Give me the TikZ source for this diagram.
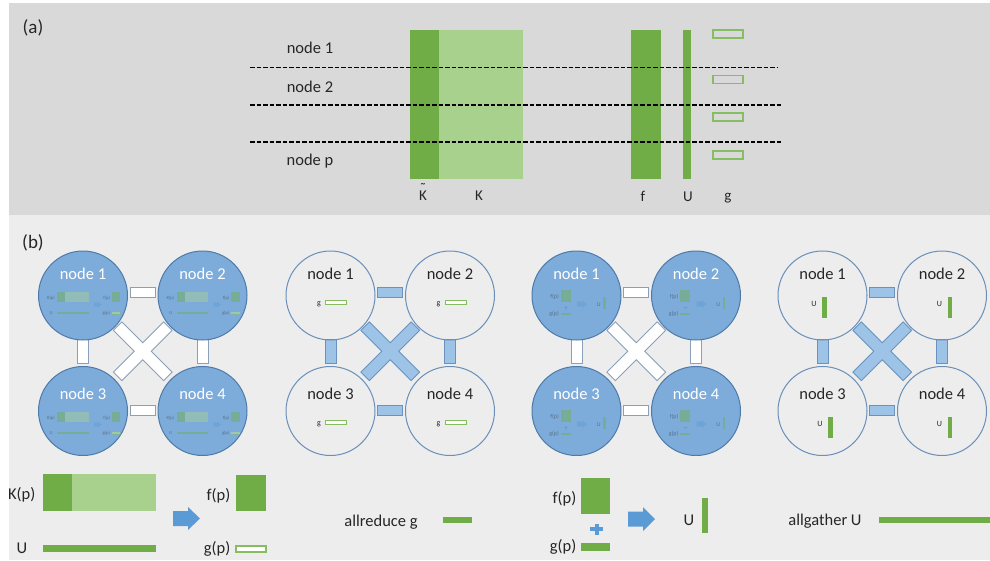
\documentclass[tikz,border=0pt]{standalone}
\usepackage{fontspec}
\setmainfont{Carlito}
\usetikzlibrary{calc}

\pgfdeclarelayer{bg}
\pgfdeclarelayer{links}
\pgfsetlayers{bg,links,main}

\definecolor{txt}{HTML}{262626}
\definecolor{pa}{HTML}{D9D9D9}
\definecolor{pb}{HTML}{EDEDED}
\definecolor{dkgreen}{HTML}{70AD47}
\definecolor{ltgreen}{HTML}{A9D18E}
\definecolor{gline}{HTML}{85BD60}
\definecolor{arrowblue}{HTML}{5B9BD5}
\definecolor{cblue}{HTML}{7EACDA}
\definecolor{cline}{HTML}{4D7AA8}
\definecolor{pline}{HTML}{6A8FB8}
\definecolor{barblue}{HTML}{9DC3E6}
\definecolor{barline}{HTML}{6B92BD}
\definecolor{openline}{HTML}{8AA0BA}

\tikzset{
  lbl/.style={font=\fontsize{16.5}{19}\selectfont, text=txt, inner sep=0pt},
  axislbl/.style={font=\fontsize{15}{18}\selectfont, text=txt, inner sep=0pt},
  tinylbl/.style={font=\fontsize{8}{9}\selectfont, text=txt, inner sep=0pt},
  panellbl/.style={font=\fontsize{19}{22}\selectfont, text=txt, inner sep=0pt},
  gbox/.style={draw=gline, line width=1.2pt, fill=white},
  gboxa/.style={draw=gline, line width=1.2pt},
  divline/.style={draw=black, dash pattern=on 4.5pt off 2pt},
  nodecirc/.style={circle, minimum size=89pt, inner sep=0pt, line width=1pt},
  hlink/.style={rectangle, minimum width=25pt, minimum height=10pt, inner sep=0pt, line width=0.9pt},
  vlink/.style={rectangle, minimum width=11pt, minimum height=24pt, inner sep=0pt, line width=0.9pt},
}

% K(p), U  =>  f(p), g(p)
\newcommand\legendK{%
  \fill[dkgreen] (43,474) rectangle (72,511);
  \fill[ltgreen] (72,474) rectangle (156,511);
  \fill[dkgreen] (43,545) rectangle (156,552);
  \fill[arrowblue] (173,511) -- (188,511) -- (188,507) -- (200,518.5) -- (188,530) -- (188,526) -- (173,526) -- cycle;
  \fill[dkgreen] (236,475) rectangle (266,511);
  \draw[gbox] (236,546) rectangle (266,552);
  \node[lbl, anchor=base east] (kp) at (35.5,499) {K(p)};
  \node[lbl, anchor=base] (ul) at (22,553) {U};
  \node[lbl, anchor=base east] (fp) at (230.5,500) {f(p)};
  \node[lbl, anchor=base east] (gp) at (230.5,553) {g(p)};
}

% f(p) + g(p)  =>  U
\newcommand\legendF{%
  \fill[dkgreen] (581,478) rectangle (610,514);
  \fill[arrowblue] (590,527) rectangle (603,531);
  \fill[arrowblue] (594.5,523.5) rectangle (598.5,534.5);
  \fill[dkgreen] (581,543) rectangle (610,551);
  \fill[arrowblue] (628,511.5) -- (643,511.5) -- (643,507) -- (655,519) -- (643,531) -- (643,526.5) -- (628,526.5) -- cycle;
  \fill[dkgreen] (702,498) rectangle (708,533);
  \node[lbl, anchor=base east] (fp) at (576.5,503) {f(p)};
  \node[lbl, anchor=base east] (gp) at (576.5,551) {g(p)};
  \node[lbl, anchor=base] (ul) at (689,525) {U};
}

\begin{document}
\begin{tikzpicture}[x=1pt, y=-1pt]
\useasboundingbox (0,0) rectangle (990,560);

% panel backgrounds
\begin{pgfonlayer}{bg}
  \fill[white] (0,0) rectangle (990,560);
  \fill[pa] (9,3) rectangle (990,215);
  \fill[pb] (9,215) rectangle (990,560);
\end{pgfonlayer}

% ---------------- (a) data layout across nodes ----------------
\node[panellbl, anchor=base] (la) at (33,33) {(a)};

\fill[dkgreen] (410,30) rectangle (439,179);
\fill[ltgreen] (439,30) rectangle (523,179);
\fill[dkgreen] (631,30) rectangle (661,179);
\fill[dkgreen] (683,30) rectangle (691,179);
\draw[gboxa] (713,30) rectangle (743,38);
\draw[gboxa] (713,75.5) rectangle (743,83.5);
\draw[gboxa] (713,113) rectangle (743,121);
\draw[gboxa] (713,151) rectangle (743,159);

\draw[divline, line width=1pt] (250,67) -- (778,67);
\draw[divline, line width=2pt] (250,105) -- (781,105);
\draw[divline, line width=2pt] (250,142) -- (781,142);

\node[lbl, anchor=base] (n1) at (310,53) {node 1};
\node[lbl, anchor=base] (n2) at (310,92.5) {node 2};
\node[lbl, anchor=base] (np) at (310,165.5) {node p};

\node[axislbl, align=center, anchor=south] (kt) at (423,200.5) {\char"02DC\\[-11pt]K};
\node[axislbl, anchor=base] (kk) at (479,200.5) {K};
\node[axislbl, anchor=base] (ff) at (643,201.5) {f};
\node[axislbl, anchor=base] (uu) at (688,201.5) {U};
\node[axislbl, anchor=base] (gg) at (728,200) {g};

% ---------------- (b) four node groups ----------------
\node[panellbl, anchor=base] (lb) at (33,248) {(b)};

\foreach \cid/\cx/\cfill/\cdraw/\tcol/\lfill/\ldraw in {%
    A/83/cblue/cline/white/white/openline,
    B/330.5/none/pline/txt/barblue/barline,
    C/576.5/cblue/cline/white/white/openline,
    D/822.5/none/pline/txt/barblue/barline}{
  \foreach \n/\dx/\cy/\ry in {1/0/295.5/295.5, 2/119.5/295.5/295.5, 3/0/411/415.5, 4/119.5/411/415.5}{
    \node[nodecirc, fill=\cfill, draw=\cdraw] (\cid\n) at ({\cx+\dx},\cy) {};
    \coordinate (\cid r\n) at ({\cx+\dx},\ry);
    \node[lbl, text=\tcol, anchor=base] (\cid t\n) at ([yshift=16.5pt]\cid r\n) {node \n};
  }
  \begin{pgfonlayer}{links}
    \path (\cid1) -- (\cid2) node[midway, yshift=3.5pt, hlink, fill=\lfill, draw=\ldraw] (\cid h1) {};
    \path (\cid3) -- (\cid4) node[midway, yshift=0.5pt, hlink, fill=\lfill, draw=\ldraw] (\cid h2) {};
    \path (\cid1) -- (\cid3) node[midway, yshift=2pt, vlink, fill=\lfill, draw=\ldraw] (\cid v1) {};
    \path (\cid2) -- (\cid4) node[midway, yshift=2pt, vlink, fill=\lfill, draw=\ldraw] (\cid v2) {};
    \path (\cid1) -- (\cid4) coordinate[midway] (\cid x);
    \draw[fill=\lfill, draw=\ldraw, line width=0.9pt, shift={(\cid x)}, yshift=2pt, rotate=45]
      (6,6) -- (35.5,6) -- (35.5,-6) -- (6,-6) -- (6,-35.5) -- (-6,-35.5) -- (-6,-6)
      -- (-35.5,-6) -- (-35.5,6) -- (-6,6) -- (-6,35.5) -- (6,35.5) -- cycle;
  \end{pgfonlayer}
}

% local step inside each node: K(p), U -> f(p), g(p)
\foreach \n in {1,...,4}{
  \begin{scope}[shift={(Ar\n)}, shift={(-26,-3.5)}, scale=0.283, shift={(-43,-474)},
                transform shape, opacity=0.45, name prefix=mA\n-]
    \legendK
  \end{scope}
}

% partial gradient in each node
\foreach \n in {1,...,4}{
  \draw[gbox, line width=1pt] ([shift={(-5,5)}]Br\n) rectangle ([shift={(16,9)}]Br\n);
  \node[tinylbl, anchor=base] (Bg\n) at ([shift={(-11.5,9.5)}]Br\n) {g};
}

% local update inside each node: f(p) + g(p) -> U
\foreach \n in {1,...,4}{
  \begin{scope}[shift={(Cr\n)}, shift={(-16,-6)}, scale=0.355, shift={(-581,-478)},
                transform shape, opacity=0.45, name prefix=mC\n-]
    \legendF
  \end{scope}
}

% local piece of U in each node
\foreach \n/\ox in {1/-6, 2/0, 3/0, 4/0}{
  \fill[dkgreen] ([shift={({5.5+\ox},1.5)}]Dr\n) rectangle ([shift={({10+\ox},22)}]Dr\n);
  \node[tinylbl, anchor=base] (Du\n) at ([shift={({-2.5+\ox},11)}]Dr\n) {U};
}

% ---------------- legend row ----------------
\begin{scope}[name prefix=lgA-]
  \legendK
\end{scope}
\begin{scope}[name prefix=lgF-]
  \legendF
\end{scope}

\node[lbl, anchor=base] (allred) at (381,526) {allreduce g};
\fill[dkgreen] (443,517) rectangle (472,523);
\node[lbl, anchor=base] (allgat) at (825,525) {allgather U};
\fill[dkgreen] (879,517) rectangle (990,523);

\end{tikzpicture}
\end{document}
